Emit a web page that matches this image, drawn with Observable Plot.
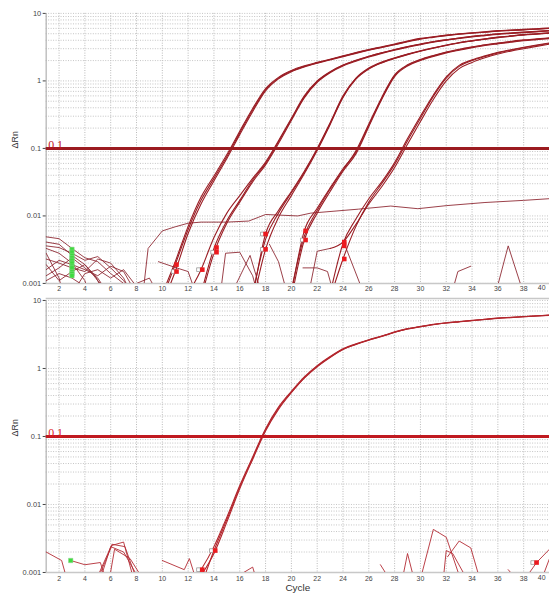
<!DOCTYPE html>
<html><head><meta charset="utf-8">
<script src="https://cdn.jsdelivr.net/npm/d3@7"></script>
<script src="https://cdn.jsdelivr.net/npm/@observablehq/plot@0.6"></script>
<style>
html,body{margin:0;padding:0;background:#fff;}
#wrap{width:549px;height:600px;overflow:hidden;position:relative;}
#wrap svg{display:block;overflow:visible;}
</style></head><body><div id="wrap"></div>
<script>
// ---------- axis / labels ----------
const xTicks = [2,4,6,8,10,12,14,16,18,20,22,24,26,28,30,32,34,36,38,40];
const xTickLabels = xTicks.map(String);
const yTicks = [10, 1, 0.1, 0.01, 0.001];
const yTickLabels = ["10", "1", "0.1", "0.01", "0.001"];
const threshold = 0.1;
const thresholdLabel = "0.1";
const xTitle = "Cycle";
const yTitle = "ΔRn";

// ---------- top panel: five dilution groups (cycle start + ΔRn per cycle) ----------
const top1Start = 10;
const top1 = [
  [0.0006,0.0019,0.0063,0.017,0.036,0.076,0.17,0.37,0.74,1.1,1.4,1.64,1.85,2.07,2.32,2.6,2.88,3.16,3.47,3.85,4.22,4.47,4.73,4.95,5.13,5.31,5.5,5.62,5.75,5.89,6.03],
  [0.0005,0.0015,0.0055,0.015,0.033,0.071,0.16,0.35,0.71,1.07,1.37,1.61,1.83,2.05,2.29,2.56,2.84,3.12,3.43,3.8,4.16,4.42,4.68,4.9,5.08,5.26,5.44,5.57,5.7,5.84,5.97],
  [0.0007,0.0021,0.007,0.019,0.039,0.081,0.18,0.39,0.77,1.13,1.43,1.67,1.88,2.1,2.35,2.63,2.92,3.2,3.52,3.9,4.27,4.52,4.78,5.0,5.18,5.36,5.55,5.67,5.8,5.94,6.08]
];
const top2Start = 13;
const top2 = [
  [0.0007,0.0033,0.0085,0.017,0.034,0.06,0.125,0.27,0.58,0.98,1.35,1.7,2.0,2.3,2.6,2.9,3.2,3.5,3.8,4.05,4.3,4.55,4.75,4.95,5.1,5.25,5.4,5.55],
  [0.0006,0.0028,0.0078,0.016,0.032,0.057,0.118,0.26,0.56,0.95,1.32,1.66,1.96,2.26,2.56,2.86,3.15,3.45,3.74,4.0,4.24,4.48,4.68,4.88,5.03,5.18,5.33,5.48]
];
const top2bStart = 12;
const top2b = [
  [0.0007,0.0016,0.0048,0.011,0.02,0.036,0.063,0.13,0.28,0.6,1.0,1.37,1.72,2.02,2.32,2.62,2.92,3.22,3.52,3.82,4.08,4.33,4.58,4.78,4.98,5.13,5.28,5.43,5.58]
];
const top3Start = 17;
const top3 = [
  [0.0006,0.0054,0.012,0.023,0.046,0.1,0.24,0.6,1.1,1.55,1.9,2.2,2.5,2.8,3.1,3.4,3.7,3.95,4.2,4.45,4.65,4.85,5.0,5.15],
  [0.0005,0.0032,0.0095,0.02,0.042,0.093,0.225,0.57,1.06,1.5,1.85,2.15,2.45,2.75,3.05,3.35,3.64,3.9,4.14,4.38,4.58,4.78,4.93,5.08],
  [0.0007,0.0045,0.011,0.022,0.044,0.097,0.232,0.58,1.08,1.52,1.87,2.17,2.47,2.77,3.07,3.37,3.67,3.92,4.17,4.41,4.61,4.81,4.96,5.11]
];
const top4Start = 20;
const top4 = [
  [0.0007,0.006,0.013,0.026,0.05,0.088,0.22,0.55,1.2,1.7,2.05,2.35,2.65,2.9,3.15,3.4,3.6,3.8,4.0,4.15,4.3],
  [0.0006,0.0044,0.011,0.023,0.046,0.083,0.21,0.53,1.16,1.66,2.0,2.3,2.6,2.85,3.1,3.34,3.54,3.74,3.93,4.08,4.23],
  [0.0008,0.005,0.012,0.025,0.048,0.092,0.23,0.57,1.23,1.73,2.08,2.38,2.68,2.94,3.19,3.44,3.64,3.85,4.05,4.2,4.36]
];
const top5Start = 23;
const top5 = [
  [0.0007,0.0039,0.009,0.018,0.032,0.062,0.14,0.3,0.62,1.15,1.7,2.05,2.35,2.65,2.9,3.15,3.4,3.65],
  [0.0033,0.0041,0.0075,0.015,0.027,0.052,0.115,0.25,0.53,1.0,1.52,1.88,2.2,2.5,2.76,3.0,3.25,3.5],
  [0.0006,0.0023,0.007,0.016,0.03,0.058,0.13,0.28,0.59,1.1,1.64,2.0,2.3,2.6,2.85,3.1,3.35,3.6]
];

// top panel baseline noise traces: [cycle, ΔRn]
const topNoise = [
  [[1,0.0049],[2,0.0046],[3,0.0033],[4,0.0024],[5,0.0021],[6,0.0014],[7,0.001],[7.5,0.0007]],
  [[1,0.0036],[2,0.0034],[3,0.0028],[4,0.0022],[5,0.0025],[6,0.0017],[7,0.0011],[7.8,0.0007]],
  [[1,0.0033],[2,0.0028],[3,0.002],[4,0.0011],[4.3,0.0007]],
  [[1,0.0023],[2,0.002],[3,0.0017],[4,0.0015],[5,0.0023],[6,0.002],[7,0.0012],[7.6,0.0007]],
  [[1,0.0028],[2,0.0012],[2.3,0.0007]],
  [[1,0.0016],[2,0.0022],[3,0.0019],[4,0.0016],[5,0.0013],[6,0.0018],[7,0.0015],[8,0.0007]],
  [[1,0.0019],[2,0.0011],[3,0.0015],[4,0.0019],[5,0.0011],[6,0.0007]],
  [[1,0.0013],[2,0.0017],[3,0.0024],[4,0.0017],[5,0.0012],[5.8,0.0007]],
  [[3,0.0007],[4,0.0014],[5,0.0016],[6,0.0012],[7,0.0016],[8,0.0009],[8.5,0.0006]],
  [[1,0.0011],[2,0.0014],[3,0.0012],[4,0.0009],[4.5,0.0007]],
  [[1,0.0041],[2,0.0038],[3,0.0026],[4,0.0019],[4.8,0.0013],[5.5,0.0007]],
  [[8.5,0.0007],[8.9,0.0033],[10,0.006],[11,0.0069],[12,0.0078],[13,0.0081],[15,0.0081],[16.7,0.0084],[18,0.0105],[20.5,0.01],[21.5,0.011],[25.2,0.0126],[27.7,0.014],[29.8,0.0128],[32,0.0142],[35,0.0158],[38,0.017],[40,0.018]],
  [[8,0.001],[9,0.0012],[9.5,0.0008]],
  [[9.7,0.0021],[11.1,0.0017],[12,0.0015],[12.5,0.0008]],
  [[14.5,0.0007],[14.9,0.0028],[16,0.0029],[17,0.0013],[17.3,0.0008]],
  [[15.5,0.0008],[16.8,0.0026],[17.6,0.0008]],
  [[18.3,0.0038],[19,0.0021],[19.6,0.0008]],
  [[20.9,0.0017],[22,0.0017],[22.8,0.0015],[23.2,0.0008]],
  [[21.4,0.0008],[22,0.003],[23,0.0033]],
  [[24.1,0.0039],[25.5,0.0008]],
  [[32.5,0.0008],[32.9,0.0015],[33.9,0.0018]],
  [[35.9,0.0008],[36.8,0.0036],[37.9,0.0008]]
];
const topRedMarks = [[11.1,0.0019],[11.1,0.0015],[13.1,0.0016],[14.2,0.0034],[14.2,0.0029],[18,0.0054],[18,0.0032],[21.1,0.006],[21.1,0.0044],[24.1,0.0041],[24.1,0.0036],[24.1,0.0023]];
const topHollowMarks = [[10.85,0.0015],[12.8,0.0016],[13.9,0.0029],[17.75,0.0032],[17.75,0.0054],[20.85,0.0044]];
const topGreenMarks = [[3,0.0032],[3,0.0029],[3,0.0026],[3,0.0024],[3,0.0022],[3,0.002],[3,0.0018],[3,0.0017],[3,0.0015],[3,0.0014],[3,0.0013]];

// ---------- bottom panel ----------
const bottomStart = 12;
const bottomCurves = [
  [0.0006,0.0011,0.0024,0.0065,0.019,0.05,0.13,0.27,0.46,0.75,1.1,1.5,1.95,2.3,2.65,3.0,3.45,3.85,4.15,4.45,4.7,4.9,5.1,5.3,5.5,5.65,5.8,5.95,6.1],
  [0.0005,0.0007,0.0021,0.006,0.018,0.048,0.125,0.26,0.45,0.73,1.08,1.47,1.92,2.27,2.62,2.97,3.42,3.82,4.12,4.42,4.67,4.87,5.07,5.27,5.47,5.62,5.77,5.92,6.07],
  [0.0005,0.0009,0.0019,0.0055,0.017,0.046,0.12,0.25,0.44,0.72,1.06,1.45,1.9,2.25,2.6,2.95,3.4,3.8,4.1,4.4,4.65,4.85,5.05,5.25,5.45,5.6,5.75,5.9,6.05]
];
const bottomNoise = [
  [[1,0.002],[2.2,0.0015],[2.6,0.0008]],
  [[2.9,0.0015],[4,0.0013],[5.2,0.0014],[5.6,0.0008]],
  [[4.9,0.0008],[6.1,0.0026],[7.1,0.0024],[8,0.0008]],
  [[5,0.0008],[6.1,0.0025],[7,0.0028],[7.7,0.0009]],
  [[5.9,0.0008],[6.3,0.0022],[7.5,0.0016],[8.5,0.0008]],
  [[5.2,0.0008],[6,0.0024],[7,0.002],[8.2,0.0008]],
  [[10,0.0015],[11.7,0.0011],[12.1,0.0016],[12.6,0.0008]],
  [[15.9,0.0009],[17,0.0012],[17.2,0.0009]],
  [[26.9,0.0013],[27.6,0.0008]],
  [[28.6,0.0008],[29,0.0019],[29.5,0.0008]],
  [[30,0.0008],[31,0.0043],[32,0.0033],[33.1,0.0008]],
  [[31.8,0.0009],[32,0.0021],[32.5,0.0019],[33.6,0.0008]],
  [[32.1,0.0017],[33,0.0029],[33.9,0.0023],[34.6,0.0008]],
  [[36.8,0.0011],[37.2,0.0009]],
  [[38.1,0.0008],[39,0.0014],[40,0.0022]],
  [[39.4,0.0008],[40,0.0016]]
];
const bottomRedMarks = [[13.1,0.0011],[14.1,0.0021],[39,0.0014]];
const bottomHollowMarks = [[12.8,0.0011],[13.8,0.0021],[38.7,0.0014]];
const bottomGreenMarks = [[2.9,0.0015]];

// ---------- helpers ----------
const fromReps = (start, reps, p) => reps.flatMap((vals, r) => vals.map((v, i) => ({id: p + r, cycle: start + i, value: v})));
const fromPairs = (list, p) => list.flatMap((pts, k) => pts.map(([c, v]) => ({id: p + k, cycle: c, value: v})));
const yGrid = [0.001,0.01,0.1,1].flatMap(d => [1,2,3,4,5,6,7,8,9].map(m => +(d*m).toPrecision(3))).concat([10]);
const xTicksInner = xTicks.slice(0, -1);
const lastTick = xTicks[xTicks.length - 1];

function panel({height, marginTop, marginBottom, curves, noise, red, hollow, green, curveColor, noiseColor, thrColor, thrLabelColor, tickPad, showXTitle, topLine}) {
  const marks = [
    Plot.gridX(xTicks, {stroke: "#b8b8b8", strokeOpacity: 1, strokeDasharray: "1,1.5"}),
    Plot.gridY(yGrid, {stroke: "#c4c4c4", strokeOpacity: 1, strokeDasharray: "1,1.5"}),
    Plot.ruleX([1], {stroke: "#b0b0b0", strokeWidth: 1.2}),
    Plot.ruleY([0.001], {stroke: "#c8c8c8", strokeWidth: 1.5}),
    Plot.axisY(yTicks, {tickFormat: d => yTickLabels[yTicks.indexOf(d)], tickSize: 3, tickPadding: 2, fontSize: 7.5, color: "#444", label: null}),
    Plot.axisX(xTicksInner, {tickFormat: d => xTickLabels[xTicks.indexOf(d)], tickSize: 0, tickPadding: tickPad, fontSize: 7, color: "#444", label: null}),
    Plot.text([lastTick], {x: d => d, frameAnchor: "bottom", dy: tickPad + 4, dx: -4, textAnchor: "end", text: d => xTickLabels[xTicks.indexOf(d)], fontSize: 7, fill: "#444"}),
    Plot.line(fromPairs(noise, "n"), {x: "cycle", y: "value", z: "id", stroke: noiseColor, strokeWidth: 0.9, clip: true}),
    Plot.line(curves, {x: "cycle", y: "value", z: "id", stroke: curveColor, strokeWidth: 1.1, curve: "monotone-x", clip: true}),
    Plot.ruleY([threshold], {stroke: thrColor, strokeWidth: 3}),
    Plot.text([threshold], {x: () => 1, y: d => d, text: () => thresholdLabel, dx: 2, dy: 1, textAnchor: "start", lineAnchor: "bottom", fill: thrLabelColor, fontFamily: "Liberation Serif, DejaVu Serif, serif", fontSize: 12}),
    Plot.dot(hollow, {x: d => d[0], y: d => d[1], symbol: "square", r: 2.1, fill: "#fff", stroke: "#9a9a9a", strokeWidth: 0.8}),
    Plot.dot(green, {x: d => d[0], y: d => d[1], symbol: "square", r: 2.5, fill: "#3ddc3d", stroke: "#8fd08f", strokeWidth: 0.5}),
    Plot.dot(red, {x: d => d[0], y: d => d[1], symbol: "square", r: 2.6, fill: "#ec1a1f", stroke: "none"}),
    Plot.text([yTitle], {frameAnchor: "left", dx: -31, rotate: -90, text: d => d, fontSize: 9, fill: "#333"})
  ];
  if (showXTitle) marks.push(Plot.text([xTitle], {frameAnchor: "bottom", dy: 19, text: d => d, fontSize: 10, fill: "#333"}));
  if (topLine) marks.push(Plot.ruleY([10], {stroke: "#c8c8c8", strokeWidth: 1.5, dy: -2}));
  return Plot.plot({
    width: 553, height, marginLeft: 46, marginRight: 0, marginTop, marginBottom,
    style: {fontFamily: "Liberation Sans, Arial, sans-serif", fontSize: "7px", background: "#fff", overflow: "visible"},
    x: {domain: [1, 40], label: null},
    y: {type: "log", domain: [0.001, 10], label: null},
    marks
  });
}

const topCurves = [
  ...fromReps(top1Start, top1, "a"), ...fromReps(top2Start, top2, "b"), ...fromReps(top2bStart, top2b, "bb"),
  ...fromReps(top3Start, top3, "c"), ...fromReps(top4Start, top4, "d"), ...fromReps(top5Start, top5, "e")
];

const wrap = document.getElementById("wrap");
wrap.appendChild(panel({height: 298, marginTop: 13, marginBottom: 13, curves: topCurves, noise: topNoise,
  red: topRedMarks, hollow: topHollowMarks, green: topGreenMarks,
  curveColor: "#9a1d24", noiseColor: "#8f2a34", thrColor: "#9b1b20", thrLabelColor: "#c0141c", tickPad: 3, showXTitle: false, topLine: false}));
wrap.appendChild(panel({height: 302, marginTop: 4, marginBottom: 24, curves: fromReps(bottomStart, bottomCurves, "f"), noise: bottomNoise,
  red: bottomRedMarks, hollow: bottomHollowMarks, green: bottomGreenMarks,
  curveColor: "#b3262d", noiseColor: "#b32a32", thrColor: "#c01a20", thrLabelColor: "#e0201f", tickPad: 4, showXTitle: true, topLine: true}));
</script></body></html>
